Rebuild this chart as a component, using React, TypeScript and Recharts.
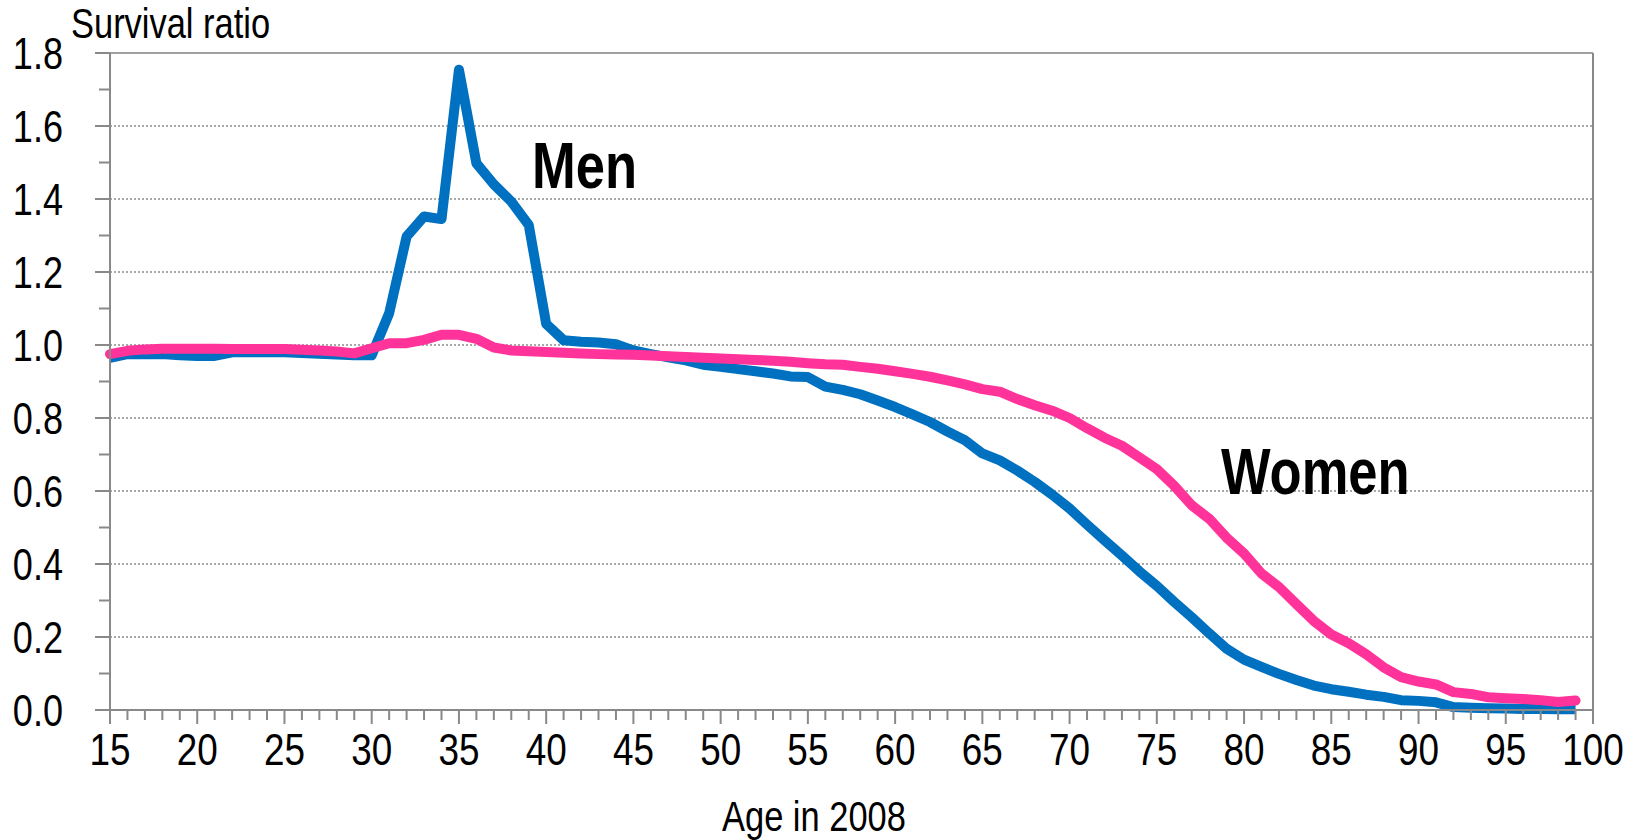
import React from 'react';
import { LineChart, Line, XAxis, YAxis, ReferenceLine } from 'recharts';

const ages = [15,16,17,18,19,20,21,22,23,24,25,26,27,28,29,30,31,32,33,34,35,36,37,38,39,40,41,42,43,44,45,46,47,48,49,50,51,52,53,54,55,56,57,58,59,60,61,62,63,64,65,66,67,68,69,70,71,72,73,74,75,76,77,78,79,80,81,82,83,84,85,86,87,88,89,90,91,92,93,94,95,96,97,98,99];

const men = [0.965,0.975,0.975,0.975,0.972,0.970,0.970,0.980,0.980,0.980,0.980,0.978,0.976,0.974,0.972,0.972,1.087,1.297,1.352,1.345,1.754,1.498,1.440,1.393,1.329,1.058,1.013,1.009,1.007,1.002,0.985,0.975,0.966,0.958,0.946,0.940,0.934,0.928,0.922,0.914,0.912,0.886,0.877,0.865,0.848,0.830,0.810,0.789,0.763,0.739,0.703,0.684,0.656,0.625,0.590,0.552,0.508,0.465,0.423,0.380,0.340,0.296,0.254,0.210,0.168,0.138,0.118,0.099,0.082,0.067,0.057,0.050,0.042,0.036,0.027,0.025,0.021,0.008,0.006,0.005,0.004,0.003,0.003,0.002,0.002];

const women = [0.975,0.984,0.988,0.990,0.990,0.990,0.990,0.989,0.989,0.989,0.989,0.987,0.985,0.982,0.977,0.991,1.005,1.005,1.014,1.028,1.028,1.017,0.993,0.985,0.983,0.981,0.979,0.977,0.975,0.974,0.973,0.971,0.969,0.967,0.965,0.963,0.961,0.959,0.957,0.954,0.950,0.947,0.946,0.940,0.935,0.928,0.921,0.913,0.903,0.892,0.879,0.872,0.852,0.835,0.820,0.800,0.772,0.746,0.724,0.692,0.660,0.614,0.561,0.524,0.472,0.429,0.374,0.337,0.290,0.244,0.207,0.183,0.153,0.117,0.090,0.078,0.070,0.049,0.044,0.035,0.032,0.030,0.027,0.022,0.026];

const xLabelTicks = [15,20,25,30,35,40,45,50,55,60,65,70,75,80,85,90,95,100];
const yLabelTicks = [0,0.2,0.4,0.6,0.8,1.0,1.2,1.4,1.6,1.8];
const gridValues = [0.2,0.4,0.6,0.8,1.0,1.2,1.4,1.6];

const xAllTicks: number[] = [];
for (let a = 15; a <= 100; a++) xAllTicks.push(a);
const yAllTicks: number[] = [];
for (let k = 0; k <= 18; k++) yAllTicks.push(k / 10);

const data = ages.map((a, i) => ({ age: a, men: men[i], women: women[i] }));

const FONT = "'Liberation Sans', Arial, sans-serif";
const NARROW = 0.82;
const AXIS = '#898989';

const XTick = (props: any) => {
  const { x, y, payload } = props;
  const v = payload.value as number;
  const major = xLabelTicks.includes(v);
  return (
    <g>
      <line x1={x} x2={x} y1={y} y2={y + (major ? 14 : 10)} stroke={AXIS} strokeWidth={2} />
      {major && (
        <text
          transform={`translate(${x},${y + 55}) scale(${NARROW},1)`}
          textAnchor="middle"
          fontFamily={FONT}
          fontSize={45}
          fill="#000"
        >
          {v}
        </text>
      )}
    </g>
  );
};

const YTick = (props: any) => {
  const { x, y, payload } = props;
  const v = payload.value as number;
  const major = yLabelTicks.some((t) => Math.abs(t - v) < 1e-6);
  return (
    <g>
      <line x1={x - (major ? 15 : 11)} x2={x} y1={y} y2={y} stroke={AXIS} strokeWidth={2} />
      {major && (
        <text
          transform={`translate(${x - 47},${y}) scale(${NARROW},1)`}
          dy="0.36em"
          textAnchor="end"
          fontFamily={FONT}
          fontSize={44}
          fill="#000"
        >
          {v.toFixed(1)}
        </text>
      )}
    </g>
  );
};

const labelStyle: React.CSSProperties = {
  position: 'absolute',
  fontFamily: FONT,
  color: '#000',
  whiteSpace: 'nowrap',
  lineHeight: 1,
  transform: `scaleX(${NARROW})`,
  transformOrigin: 'left top',
};

export default function App() {
  return (
    <div style={{ position: 'absolute', left: 0, top: 0, width: 1637, height: 840, background: '#fff', overflow: 'hidden' }}>
      <LineChart width={1637} height={840} data={data} margin={{ top: 53, right: 44, bottom: 0, left: 0 }}>
        <XAxis
          dataKey="age"
          type="number"
          domain={[15, 100]}
          ticks={xAllTicks}
          interval={0}
          height={130}
          tickSize={0}
          tickMargin={0}
          tickLine={false}
          axisLine={{ stroke: AXIS, strokeWidth: 2 }}
          tick={(p: any) => <XTick {...p} />}
        />
        <YAxis
          type="number"
          domain={[0, 1.8]}
          ticks={yAllTicks}
          interval={0}
          width={110}
          tickSize={0}
          tickMargin={0}
          tickLine={false}
          axisLine={{ stroke: AXIS, strokeWidth: 2 }}
          tick={(p: any) => <YTick {...p} />}
        />
        {gridValues.map((g) => (
          <ReferenceLine key={g} y={g} stroke="#8c8c8c" strokeWidth={1.6} strokeDasharray="2 2" />
        ))}
        <ReferenceLine y={1.8} stroke="#a0a0a0" strokeWidth={2} />
        <ReferenceLine x={100} stroke={AXIS} strokeWidth={2} />
        <Line
          type="linear"
          dataKey="men"
          stroke="#0070C0"
          strokeWidth={10}
          dot={false}
          strokeLinejoin="round"
          strokeLinecap="butt"
          isAnimationActive={false}
        />
        <Line
          type="linear"
          dataKey="women"
          stroke="#FF3399"
          strokeWidth={10}
          dot={false}
          strokeLinejoin="round"
          strokeLinecap="round"
          isAnimationActive={false}
        />
      </LineChart>
      <div style={{ ...labelStyle, left: 71, top: 3, fontSize: 42 }}>Survival ratio</div>
      <div style={{ ...labelStyle, left: 722, top: 796, fontSize: 42 }}>Age in 2008</div>
      <div style={{ ...labelStyle, left: 532, top: 134, fontSize: 64, fontWeight: 'bold' }}>Men</div>
      <div style={{ ...labelStyle, left: 1221, top: 440, fontSize: 64, fontWeight: 'bold' }}>Women</div>
    </div>
  );
}
